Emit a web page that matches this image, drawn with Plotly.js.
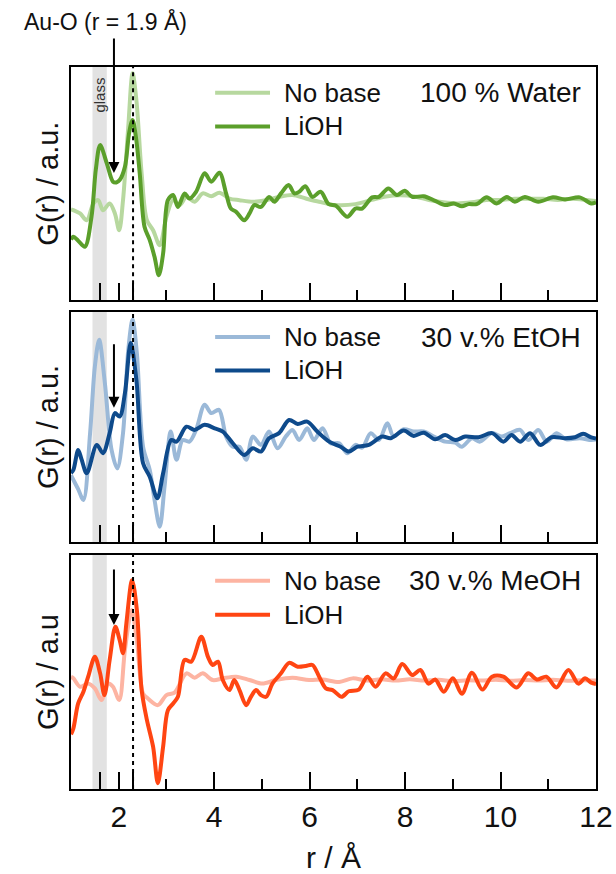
<!DOCTYPE html>
<html>
<head>
<meta charset="utf-8">
<script src="https://cdn.plot.ly/plotly-3.0.1.min.js"></script>
<style>html,body{margin:0;padding:0;background:#fff;}#chart{width:616px;height:874px;}</style>
</head>
<body>
<div id="chart"></div>
<script>
// ---------- Data (G(r) in arbitrary units) ----------
const seriesNames = ["No base", "LiOH"];
const panelTitles = ["100 % Water", "30 v.% EtOH", "30 v.% MeOH"];
const yTitles = ["G(r) / a.u.", "G(r) / a.u.", "G(r) / a.u"];
const xTickVals = [1.6, 2, 2.3, 4, 6, 8, 10, 12];
const xTickText = ["", "2", "", "4", "6", "8", "10", "12"];
const xMinorTicks = [3, 5, 7, 9, 11];
const glassLabel = "glass";
const auoLabel = "Au-O (r = 1.9 Å)";
const auoR = 1.9;

const waterNoBaseR = [1.0,1.05,1.19,1.33,1.47,1.57,1.67,1.81,1.92,2.01,2.09,2.20,2.29,2.37,2.48,2.59,2.72,2.86,3.0,3.14,3.28,3.42,3.59,3.76,3.94,4.11,4.32,4.53,4.81,5.09,5.36,5.64,5.92,6.20,6.55,6.96,7.3,7.6,7.9,8.2,8.5,8.8,9.1,9.4,9.7,10.0,10.3,10.6,10.9,11.2,11.5,11.8,12.0];
const waterNoBaseG = [3.9,3.86,3.72,3.43,4.15,4.29,3.86,4.15,3.72,3.0,4.29,7.44,9.73,8.58,5.44,3.43,3.0,2.36,3.58,4.29,4.08,4.43,4.22,4.58,4.46,4.61,4.36,4.29,4.22,4.29,4.43,4.51,4.36,4.22,4.08,4.12,4.3,4.45,4.5,4.45,4.3,4.2,4.15,4.2,4.3,4.3,4.35,4.35,4.35,4.3,4.35,4.3,4.25];

const waterLiOHR = [1.0,1.05,1.15,1.29,1.43,1.52,1.61,1.75,1.88,1.95,2.02,2.13,2.22,2.29,2.36,2.44,2.54,2.65,2.75,2.84,2.93,3.03,3.14,3.24,3.38,3.48,3.62,3.80,3.94,4.11,4.25,4.35,4.46,4.63,4.74,4.84,4.98,5.15,5.26,5.40,5.56,5.68,5.78,5.91,6.06,6.23,6.40,6.55,6.79,6.96,7.10,7.31,7.45,7.65,7.83,7.99,8.15,8.39,8.63,8.84,9.02,9.19,9.33,9.50,9.71,9.92,10.13,10.30,10.51,10.79,11.10,11.35,11.66,11.90,12.0];
const waterLiOHG = [2.6,2.72,2.55,2.29,3.58,5.6,6.65,5.87,5.08,5.05,5.15,5.72,7.2,7.73,7.0,5.44,3.15,2.58,1.86,1.07,2.0,4.29,4.51,4.0,4.58,4.36,4.65,5.44,5.08,5.47,4.58,3.93,3.79,3.43,3.72,4.08,4.0,4.43,4.22,4.58,4.94,4.58,4.65,4.89,4.43,4.65,4.12,4.05,3.58,3.93,3.93,4.41,4.43,4.79,4.51,4.69,4.43,4.46,4.26,4.08,4.15,4.03,4.12,4.12,4.41,4.15,4.43,4.22,4.43,4.22,4.41,4.32,4.41,4.15,4.2];

const etohNoBaseR = [1.0,1.05,1.15,1.26,1.40,1.50,1.59,1.71,1.85,1.97,2.09,2.20,2.29,2.38,2.51,2.65,2.75,2.86,2.96,3.09,3.21,3.34,3.48,3.62,3.80,3.94,4.10,4.25,4.39,4.53,4.67,4.81,4.98,5.15,5.33,5.50,5.64,5.78,5.95,6.09,6.27,6.44,6.62,6.79,6.96,7.10,7.28,7.45,7.63,7.76,7.97,8.18,8.39,8.60,8.84,9.05,9.19,9.40,9.56,9.82,10.03,10.2,10.41,10.58,10.79,10.97,11.17,11.38,11.66,11.90,12.0];
const etohNoBaseG = [2.9,2.7,2.3,1.83,4.73,7.62,8.78,6.90,4.0,3.20,4.73,8.35,9.65,8.20,4.14,3.13,1.83,0.67,2.41,4.80,3.57,4.43,4.36,4.87,5.96,5.60,5.74,4.58,4.14,4.14,3.57,4.58,4.22,4.80,4.07,4.58,4.87,4.43,4.94,4.43,4.94,4.29,4.29,3.86,4.22,4.1,4.73,4.43,5.16,4.58,4.9,4.8,4.8,4.58,4.36,4.32,4.14,4.51,4.36,4.73,4.58,4.73,4.87,4.43,4.87,4.36,4.73,4.46,4.51,4.43,4.45];

const etohLiOHR = [1.0,1.05,1.15,1.22,1.33,1.54,1.67,1.81,1.92,2.02,2.13,2.25,2.37,2.51,2.65,2.81,2.93,3.10,3.21,3.42,3.59,3.80,4.01,4.18,4.39,4.63,4.81,4.98,5.15,5.36,5.57,5.75,5.95,6.16,6.41,6.65,6.82,7.0,7.24,7.52,7.70,7.97,8.18,8.39,8.63,8.84,9.05,9.26,9.54,9.82,10.06,10.23,10.41,10.62,10.83,11.07,11.35,11.56,11.73,11.90,12.0];
const etohLiOHG = [3.0,3.13,4.0,3.6,2.99,4.22,3.86,4.73,5.6,5.45,6.47,8.64,7.04,3.42,2.84,1.9,2.99,4.43,4.36,5.01,4.87,5.09,4.94,4.80,4.29,3.78,4.07,3.93,4.51,4.73,5.30,5.13,5.23,4.80,4.36,4.14,3.93,4.14,4.22,4.58,4.51,4.84,4.61,4.75,4.46,4.65,4.43,4.58,4.55,4.73,4.36,4.65,4.36,4.73,4.22,4.55,4.51,4.55,4.70,4.55,4.5];

const meohNoBaseR = [1.0,1.05,1.19,1.36,1.50,1.64,1.78,1.88,2.01,2.13,2.27,2.38,2.51,2.61,2.82,3.0,3.17,3.42,3.59,3.76,3.97,4.18,4.46,4.74,5.01,5.29,5.64,5.99,6.27,6.62,6.90,7.2,7.5,7.8,8.1,8.4,8.7,9.0,9.3,9.6,9.9,10.2,10.5,10.8,11.1,11.4,11.7,12.0];
const meohNoBaseG = [4.9,4.84,4.49,4.62,4.42,3.93,4.62,4.49,3.93,6.03,7.70,6.44,4.20,4.0,3.72,4.14,4.24,5.05,4.87,5.05,4.77,4.84,4.91,4.77,4.62,4.77,4.87,4.77,4.79,4.69,4.84,4.75,4.8,4.75,4.8,4.75,4.78,4.72,4.76,4.75,4.78,4.74,4.77,4.75,4.78,4.74,4.76,4.75];

const meohLiOHR = [1.0,1.05,1.15,1.26,1.36,1.50,1.61,1.70,1.81,1.93,2.02,2.09,2.16,2.28,2.38,2.48,2.59,2.72,2.82,2.93,3.03,3.14,3.24,3.38,3.52,3.73,3.87,3.97,4.08,4.18,4.32,4.42,4.53,4.67,4.77,4.88,4.98,5.09,5.22,5.40,5.57,5.75,5.92,6.06,6.20,6.34,6.48,6.67,6.82,7.03,7.21,7.38,7.59,7.76,7.94,8.15,8.32,8.49,8.63,8.81,9.00,9.19,9.40,9.62,9.82,10.06,10.34,10.58,10.76,10.96,11.17,11.42,11.63,11.77,11.90,12.0];
const meohLiOHG = [2.5,2.75,3.79,4.28,4.91,5.74,5.05,4.14,5.61,7.0,6.44,5.89,7.14,8.95,7.70,4.35,3.10,1.98,0.45,1.98,3.51,3.79,4.07,5.61,5.54,6.58,5.74,5.40,5.54,4.77,4.35,4.77,4.35,3.72,4.07,4.35,4.14,4.07,4.62,5.05,5.49,5.33,5.36,5.40,4.91,4.42,4.35,4.07,4.30,4.37,4.91,4.49,5.05,4.84,5.44,4.98,5.19,4.62,4.79,4.28,4.84,4.20,5.08,4.37,4.91,4.91,4.46,5.05,4.79,4.91,4.46,5.19,4.62,4.84,4.66,4.6];

// ---------- Styling ----------
const FONT = "Liberation Sans, Arial, Helvetica, sans-serif";
const colors = [
  ["#b7d89f", "#5b9f2b"],   // water: light, dark
  ["#9bb9d8", "#0e4a8b"],   // EtOH
  ["#fdb4a2", "#ff4512"]    // MeOH
];
const panels = [
  {r: [waterNoBaseR, waterLiOHR], g: [waterNoBaseG, waterLiOHG], ax: "", yr: [0, 10], tip: 5.45, ay: -136},
  {r: [etohNoBaseR, etohLiOHR],   g: [etohNoBaseG, etohLiOHG],   ax: "2", yr: [0, 10], tip: 5.83, ay: -65},
  {r: [meohNoBaseR, meohLiOHR],   g: [meohNoBaseG, meohLiOHG],   ax: "3", yr: [0.21, 10], tip: 7.07, ay: -57}
];
const domains = [[0.677, 1.0], [0.342, 0.661], [0.0, 0.324]];

const traces = [];
const shapes = [];
const annotations = [];
const layout = {
  width: 616, height: 874,
  margin: {l: 71, r: 20, t: 67, b: 85},
  paper_bgcolor: "#fff", plot_bgcolor: "#fff",
  showlegend: false,
  font: {family: FONT, color: "#111", size: 24},
  shapes: shapes, annotations: annotations
};

panels.forEach((p, i) => {
  const xa = "x" + p.ax, ya = "y" + p.ax;
  for (let s = 0; s < 2; s++) {
    traces.push({
      type: "scatter", mode: "lines", name: seriesNames[s],
      x: p.r[s], y: p.g[s], xaxis: xa, yaxis: ya,
      line: {color: colors[i][s], width: 4, shape: "spline", smoothing: 0.9}
    });
  }
  const isBottom = i === 2;
  layout["xaxis" + p.ax] = {
    domain: [0, 1], anchor: ya, range: [1, 12],
    showline: true, mirror: true, linecolor: "#000", linewidth: 2,
    showgrid: false, zeroline: false,
    ticks: "inside", ticklen: 17, tickwidth: 2, tickcolor: "#000",
    tickmode: "array", tickvals: xTickVals, ticktext: xTickText,
    showticklabels: isBottom,
    tickfont: {family: FONT, size: 30, color: "#111"},
    minor: {tickmode: "array", tickvals: xMinorTicks, ticks: "inside", ticklen: 10, tickwidth: 2, tickcolor: "#000"},
    title: isBottom ? {text: "r / Å", font: {family: FONT, size: 30, color: "#111"}, standoff: 15} : {text: ""}
  };
  if (i > 0) layout["xaxis" + p.ax].matches = "x";
  layout["yaxis" + p.ax] = {
    domain: domains[i], anchor: xa, range: p.yr,
    showline: true, mirror: true, linecolor: "#000", linewidth: 2,
    showgrid: false, zeroline: false, ticks: "", showticklabels: false,
    title: {text: yTitles[i], font: {family: FONT, size: 29, color: "#111"}, standoff: 2}
  };
  // glass region band
  shapes.push({type: "rect", xref: xa, yref: ya + " domain", x0: 1.45, x1: 1.75, y0: 0, y1: 1,
    fillcolor: "#e2e2e2", line: {width: 0}, layer: "below"});
  // Au-Au dashed marker
  shapes.push({type: "line", xref: xa, yref: ya + " domain", x0: 2.3, x1: 2.3, y0: 0, y1: 1,
    line: {color: "#000", width: 2, dash: "4px,4px"}, layer: "above"});
  // legend samples
  shapes.push({type: "line", xref: xa, yref: ya + " domain", x0: 4.02, x1: 5.17, y0: 0.89, y1: 0.89,
    line: {color: colors[i][0], width: 4}});
  shapes.push({type: "line", xref: xa, yref: ya + " domain", x0: 4.02, x1: 5.17, y0: 0.745, y1: 0.745,
    line: {color: colors[i][1], width: 4}});
  annotations.push({xref: xa, yref: ya + " domain", x: 5.43, y: 0.89, xanchor: "left", yanchor: "middle",
    text: seriesNames[0], showarrow: false, font: {family: FONT, size: 26, color: "#111"}});
  annotations.push({xref: xa, yref: ya + " domain", x: 5.43, y: 0.745, xanchor: "left", yanchor: "middle",
    text: seriesNames[1], showarrow: false, font: {family: FONT, size: 26, color: "#111"}});
  annotations.push({xref: xa + " domain", yref: ya + " domain", x: 0.975, y: 0.89, xanchor: "right", yanchor: "middle",
    text: panelTitles[i], showarrow: false, font: {family: FONT, size: 28, color: "#111"}});
  // arrow at Au-O distance
  annotations.push({xref: xa, yref: ya, x: auoR, y: p.tip, ax: 0, ay: p.ay, text: "",
    showarrow: true, arrowhead: 2, arrowsize: 1.1, arrowwidth: 2, arrowcolor: "#000"});
});

annotations.push({xref: "x", yref: "y domain", x: 1.6, y: 0.88, yanchor: "middle", text: glassLabel, textangle: -90,
  showarrow: false, font: {family: FONT, size: 15, color: "#333"}});
annotations.push({xref: "paper", yref: "paper", x: 0.065, y: 1.063, xanchor: "center", yanchor: "middle",
  text: auoLabel, showarrow: false, font: {family: FONT, size: 23, color: "#111"}});

Plotly.newPlot("chart", traces, layout, {displayModeBar: false, staticPlot: true});
</script>
</body>
</html>
